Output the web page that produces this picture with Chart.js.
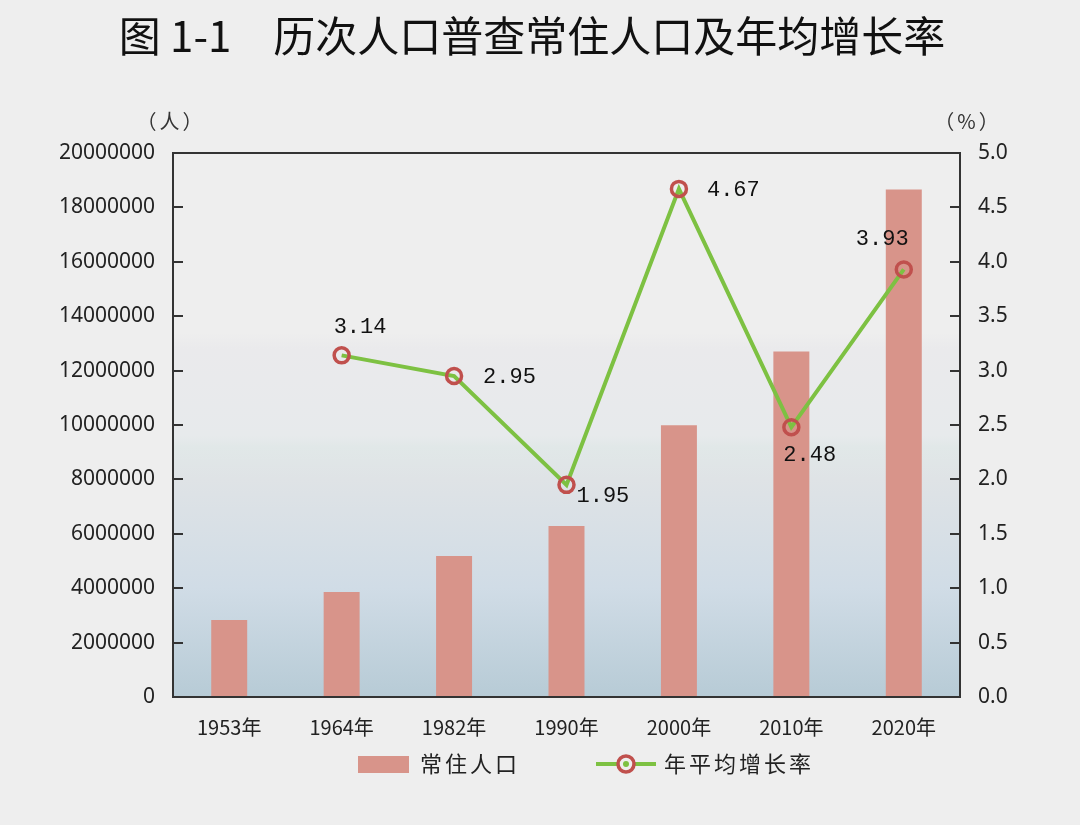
<!DOCTYPE html>
<html>
<head>
<meta charset="utf-8">
<script src="https://cdn.jsdelivr.net/npm/chart.js@4.4.1/dist/chart.umd.min.js"></script>
<style>
  html, body { margin: 0; padding: 0; background: #eeeeee; }
  #wrap { width: 1080px; height: 825px; position: relative; }
</style>
</head>
<body>
<div id="wrap"><canvas id="c" width="1080" height="825"></canvas></div>
<script>
const categories = ['1953年', '1964年', '1982年', '1990年', '2000年', '2010年', '2020年'];
const population = [2830000, 3860000, 5180000, 6290000, 9990000, 12700000, 18660000];
const growthRate = [null, 3.14, 2.95, 1.95, 4.67, 2.48, 3.93];
const rateLabels = ['', '3.14', '2.95', '1.95', '4.67', '2.48', '3.93'];
const titleText = '图 1-1　历次人口普查常住人口及年均增长率';
const seriesNames = ['常住人口', '年平均增长率'];
const leftUnit = '（人）';
const rightUnit = '（%）';

// label placement offsets (styling only) relative to point, for text left/middle
const labelOffsets = [[0,0],[-8,-28],[29,1],[10,11],[28,1],[-8,28],[-48,-30]];

const BAR = '#d8948a';
const GREEN = '#7dc142';
const RED = '#c0504d';

const bgPlugin = {
  id: 'bg',
  beforeDraw(chart) {
    const {ctx, chartArea: a} = chart;
    ctx.save();
    const g = ctx.createLinearGradient(0, a.top, 0, a.bottom);
    g.addColorStop(0, '#eeeeee');
    g.addColorStop(0.33, '#eeeeee');
    g.addColorStop(0.36, '#eaeaec');
    g.addColorStop(0.52, '#e7eaec');
    g.addColorStop(0.54, '#e1e8e8');
    g.addColorStop(0.6, '#dfe3e6');
    g.addColorStop(0.8, '#d0dce6');
    g.addColorStop(1, '#b7cbd6');
    ctx.fillStyle = g;
    ctx.fillRect(a.left, a.top, a.right - a.left, a.bottom - a.top);
    ctx.restore();
  },
  afterDraw(chart) {
    const {ctx, chartArea: a} = chart;
    ctx.save();
    // frame
    ctx.strokeStyle = '#333333';
    ctx.lineWidth = 2;
    ctx.strokeRect(a.left, a.top, a.right - a.left, a.bottom - a.top);
    // inward ticks
    ctx.lineWidth = 2;
    const yL = chart.scales.y, yR = chart.scales.y1;
    yL.ticks.forEach(t => {
      const p = Math.round(yL.getPixelForValue(t.value));
      if (p <= a.top + 1 || p >= a.bottom - 1) return;
      ctx.beginPath(); ctx.moveTo(a.left, p); ctx.lineTo(a.left + 10, p); ctx.stroke();
    });
    yR.ticks.forEach(t => {
      const p = Math.round(yR.getPixelForValue(t.value));
      if (p <= a.top + 1 || p >= a.bottom - 1) return;
      ctx.beginPath(); ctx.moveTo(a.right, p); ctx.lineTo(a.right - 10, p); ctx.stroke();
    });
    // title
    ctx.fillStyle = '#111111';
    ctx.font = '42px "Noto Sans CJK SC"';
    ctx.textAlign = 'center';
    ctx.textBaseline = 'middle';
    ctx.fillText(titleText, 532, 36);
    // units
    ctx.font = '20px "Noto Sans CJK SC"';
    ctx.letterSpacing = '3px';
    ctx.fillStyle = '#333333';
    ctx.fillText(leftUnit, 171, 121);
    ctx.fillText(rightUnit, 968, 121);
    ctx.letterSpacing = '0px';
    // data labels
    const meta = chart.getDatasetMeta(1);
    ctx.font = '22px "Liberation Mono"';
    ctx.fillStyle = '#111111';
    ctx.textAlign = 'left';
    meta.data.forEach((pt, i) => {
      if (growthRate[i] === null) return;
      const [dx, dy] = labelOffsets[i];
      ctx.fillText(rateLabels[i], pt.x + dx, pt.y + dy);
    });
    // legend
    const ly = 764;
    ctx.fillStyle = BAR;
    ctx.fillRect(358, ly - 8, 51, 17);
    ctx.font = '22px "Noto Sans CJK SC"';
    ctx.letterSpacing = '3px';
    ctx.fillStyle = '#222222';
    ctx.fillText(seriesNames[0], 420, ly);
    ctx.strokeStyle = GREEN;
    ctx.lineWidth = 4;
    ctx.beginPath(); ctx.moveTo(596, ly); ctx.lineTo(656, ly); ctx.stroke();
    ctx.strokeStyle = RED;
    ctx.lineWidth = 3.5;
    ctx.fillStyle = '#eeeeee';
    ctx.beginPath(); ctx.arc(626, ly, 8, 0, Math.PI * 2); ctx.fill(); ctx.stroke();
    ctx.fillStyle = GREEN;
    ctx.beginPath(); ctx.arc(626, ly, 3, 0, Math.PI * 2); ctx.fill();
    ctx.fillStyle = '#222222';
    ctx.fillText(seriesNames[1], 664, ly);
    ctx.restore();
  }
};

new Chart(document.getElementById('c'), {
  data: {
    labels: categories,
    datasets: [
      {
        type: 'bar', label: seriesNames[0], data: population, yAxisID: 'y',
        backgroundColor: BAR, barPercentage: 0.64, categoryPercentage: 0.5, order: 2
      },
      {
        type: 'line', label: seriesNames[1], data: growthRate, yAxisID: 'y1',
        borderColor: GREEN, borderWidth: 4, pointRadius: 7.5, pointHoverRadius: 7.5,
        pointBorderColor: RED, pointBorderWidth: 3.5, pointBackgroundColor: 'rgba(0,0,0,0)',
        tension: 0, spanGaps: false, order: 1
      }
    ]
  },
  options: {
    responsive: false,
    animation: false,
    layout: { padding: { top: 153, left: 0, right: 0, bottom: 0 } },
    plugins: { legend: { display: false }, title: { display: false }, tooltip: { enabled: false } },
    scales: {
      x: {
        grid: { display: false }, border: { display: false },
        ticks: { color: '#222222', font: { size: 20, family: '"Noto Sans CJK SC"' }, padding: 10, maxRotation: 0 },
        afterFit(s) { s.height = 128; }
      },
      y: {
        position: 'left', min: 0, max: 20000000,
        grid: { display: false }, border: { display: false },
        ticks: { stepSize: 2000000, color: '#222222', font: { size: 21, family: '"Noto Sans"' }, padding: 10,
                 callback: v => String(v) },
        afterFit(s) { s.width = 173; }
      },
      y1: {
        position: 'right', min: 0, max: 5,
        grid: { display: false }, border: { display: false },
        ticks: { stepSize: 0.5, color: '#222222', font: { size: 21, family: '"Noto Sans"' }, padding: 10,
                 callback: v => Number(v).toFixed(1) },
        afterFit(s) { s.width = 120; }
      }
    }
  },
  plugins: [bgPlugin]
});
</script>
</body>
</html>
